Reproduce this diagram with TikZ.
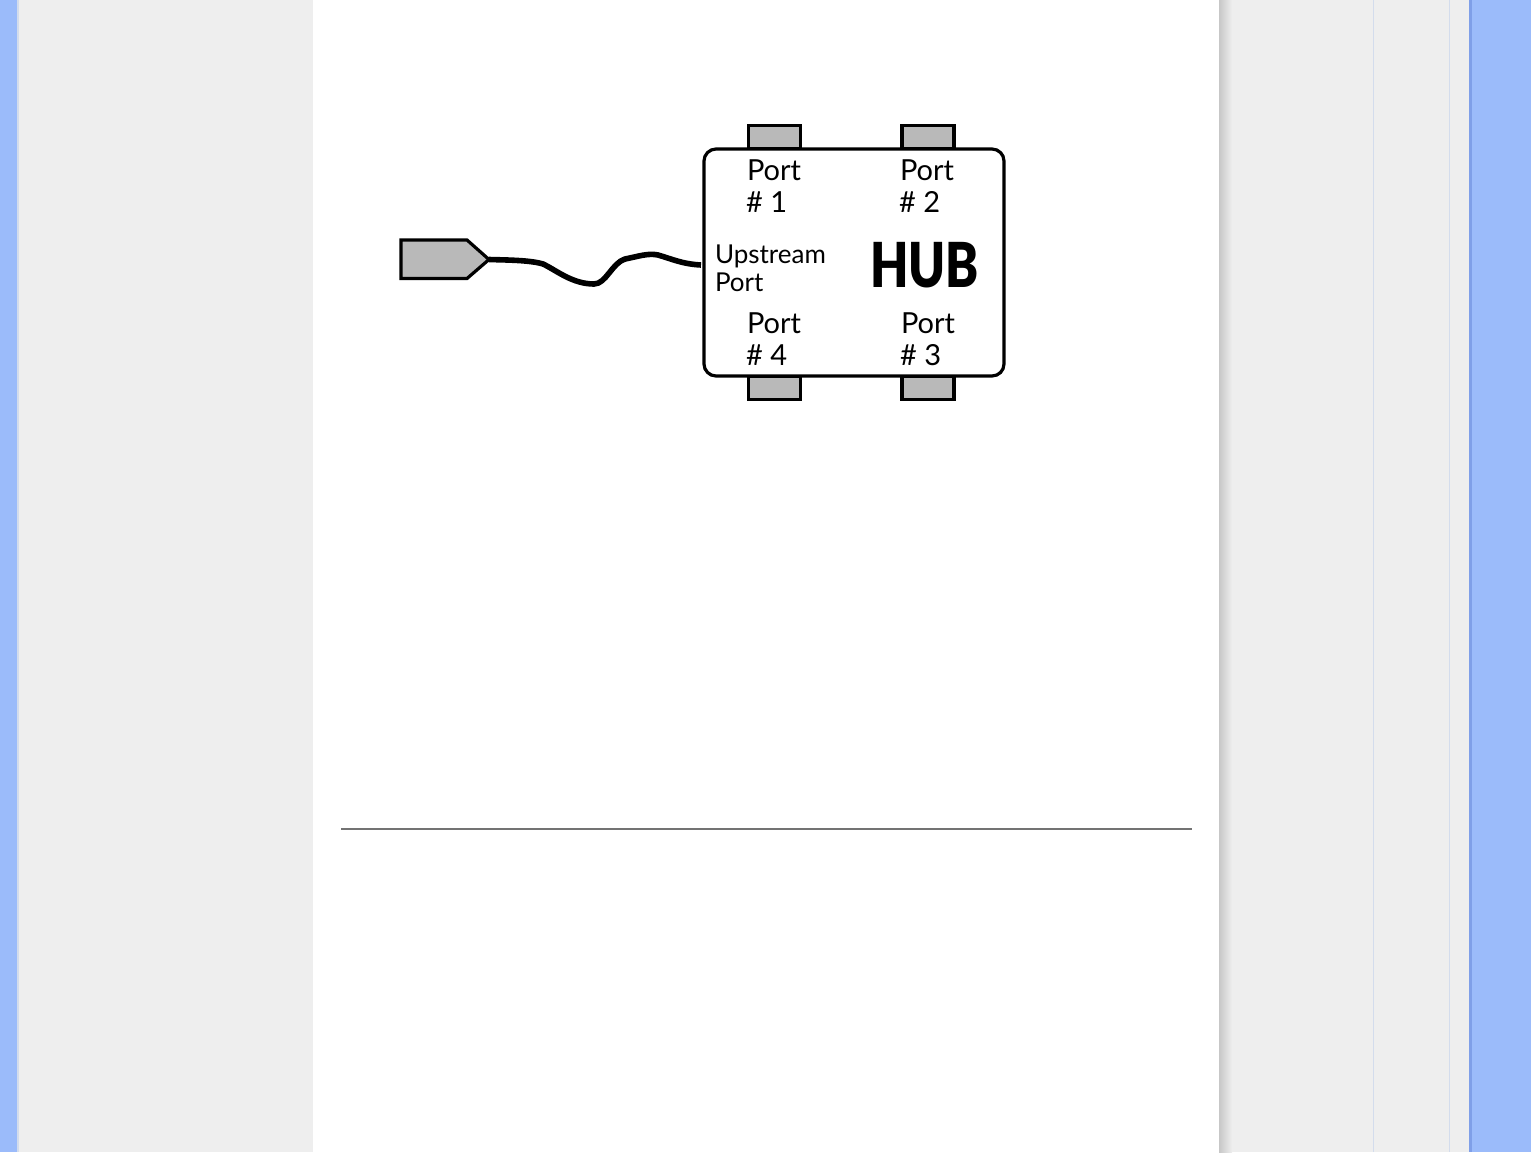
\documentclass[tikz,border=0pt]{standalone}
\usepackage{fontspec}
\setmainfont{Lato}
\newfontfamily\hubfont[FakeStretch=0.8]{Lato Black}
\usetikzlibrary{shapes.geometric}
\definecolor{pageblue}{HTML}{9BBBFA}
\definecolor{edgeblue}{HTML}{7F9FE8}
\definecolor{sidegrey}{HTML}{EEEEEE}
\definecolor{railline}{HTML}{D3DCEC}
\definecolor{fillgrey}{HTML}{B9B9B9}
\tikzset{
  x=1bp,y=-1bp,
  portbox/.style={draw=black,line width=3.2bp,fill=fillgrey,minimum width=52bp,minimum height=23bp,inner sep=0pt,outer sep=0pt},
  hubbox/.style={draw=black,line width=3.2bp,fill=white,rounded corners=12bp,minimum width=300bp,minimum height=227bp,inner sep=0pt,outer sep=0pt},
  plug/.style={draw=black,line width=3.2bp,fill=fillgrey,line join=miter},
  cable/.style={draw=black,line width=5.6bp,line cap=butt},
  lbl/.style={anchor=base west,inner sep=0pt,outer sep=0pt,text=black,font=\fontsize{29bp}{29bp}\selectfont},
  lblsmall/.style={anchor=base west,inner sep=0pt,outer sep=0pt,text=black,font=\fontsize{26bp}{26bp}\selectfont},
  hublbl/.style={anchor=base,inner sep=0pt,outer sep=0pt,text=black,font=\hubfont\fontsize{62bp}{62bp}\selectfont},
  rail/.style={draw=railline,line width=1bp}
}
\begin{document}
\begin{tikzpicture}
\useasboundingbox (0,0) rectangle (1531,1152);
% page backdrop
\fill[sidegrey] (0,0) rectangle (1531,1152);
\fill[pageblue] (0,0) rectangle (17,1152);
\fill[railline] (17,0) rectangle (19,1152);
\fill[pageblue] (1470,0) rectangle (1531,1152);
\fill[edgeblue] (1469,0) rectangle (1472,1152);
\shade[left color=black!22,right color=sidegrey] (1219,0) rectangle (1232,1152);
\fill[white] (313,0) rectangle (1219,1152);
\draw[rail] (1373.5,0) -- (1373.5,1152);
\draw[rail] (1449.5,0) -- (1449.5,1152);
\draw[draw=black!55,line width=1.5bp] (341,829) -- (1192,829);
% ports behind the hub
\node[portbox] (p1) at (774.5,137) {};
\node[portbox] (p2) at (928,137) {};
\node[portbox] (p4) at (774.5,388) {};
\node[portbox] (p3) at (928,388) {};
\node[hubbox] (hub) at (854,262.5) {};
% plug
\coordinate (plugtip) at (489,259.5);
\draw[plug] (401,240) -- (467,240) -- (plugtip) -- (467,278.5) -- (401,278.5) -- cycle;
% cable
\coordinate (hubport) at (701,265);
\draw[cable] (plugtip) .. controls (505,260) and (530,260) .. (543,264)
  .. controls (556,270) and (572,284) .. (594,284)
  .. controls (606,284) and (612,263) .. (625,259)
  .. controls (640,256) and (648,253) .. (658,255)
  .. controls (672,259) and (682,264) .. (hubport);
% labels
\node[lbl] (t1a) at (747,180) {Port};
\node[lbl] (t1b) at (746,212) {\# 1};
\node[lbl] (t2a) at (900,180) {Port};
\node[lbl] (t2b) at (899,212) {\# 2};
\node[lbl] (t4a) at (747,333) {Port};
\node[lbl] (t4b) at (746,365) {\# 4};
\node[lbl] (t3a) at (901,333) {Port};
\node[lbl] (t3b) at (900,365) {\# 3};
\node[lblsmall] (u1) at (715,263) {Upstream};
\node[lblsmall] (u2) at (715,291) {Port};
\node[hublbl] (hubtext) at (924.5,287) {HUB};
\end{tikzpicture}
\end{document}
